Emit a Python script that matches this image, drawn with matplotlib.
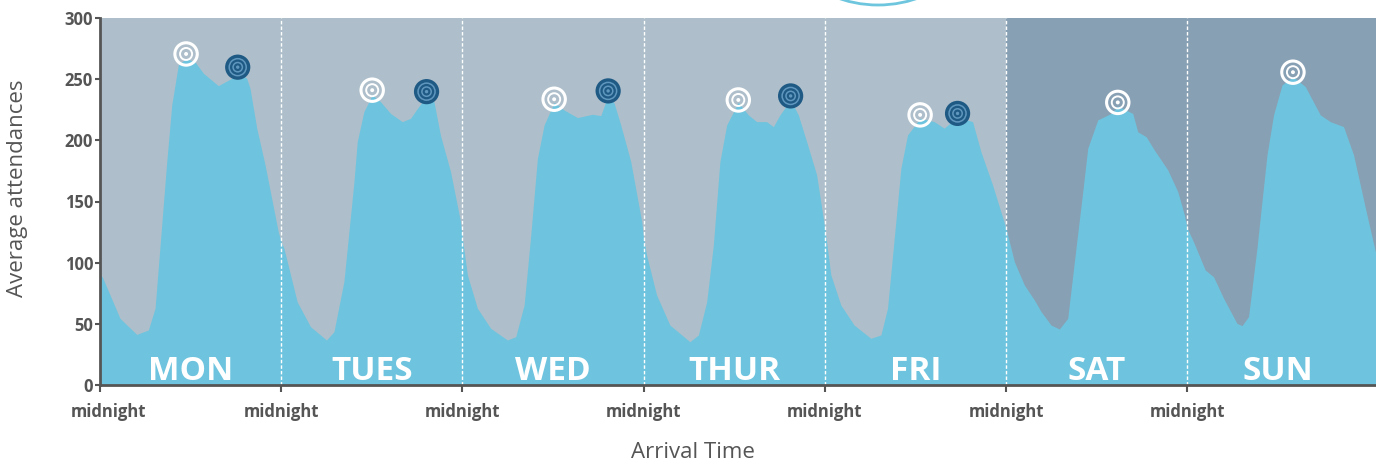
import matplotlib
matplotlib.use("Agg")
import matplotlib.pyplot as plt
import matplotlib.transforms as mtransforms
from matplotlib.patches import Circle
import numpy as np

plt.rcParams['font.family'] = ['Open Sans', 'DejaVu Sans']

# ---------------- data (hours since each day's midnight, attendances) ----------------
days = ["MON", "TUES", "WED", "THUR", "FRI", "SAT", "SUN"]

mon_h = [0, 0.3, 2.65, 4.86, 6.4, 7.29, 8.84, 9.5, 10.37, 11.4, 12.6, 13.7, 15.67, 17.45, 18.24, 19.43, 19.87, 20.76, 21.86, 23.62]
mon_v = [90, 88.5, 54.5, 41.4, 45, 62.7, 182.6, 229, 261.6, 267, 264, 254.8, 244.7, 250.7, 256, 250.7, 242.6, 210, 180, 125]

tue_h = [0, 0.36, 2.12, 3.88, 6.0, 6.98, 8.3, 9.63, 10.07, 10.95, 12.05, 13.15, 14.48, 16.03, 17.13, 18.02, 19.25, 20.23, 21.1, 22.43, 23.75]
tue_v = [117, 111.8, 68, 47.7, 36.8, 43.6, 84.5, 166, 199, 223.5, 237, 231.6, 222, 215.3, 218, 226, 236, 231.6, 204, 174.4, 133.5]

wed_h = [0, 0.66, 1.99, 3.75, 5.96, 7.06, 8.17, 9.05, 9.93, 10.82, 12.15, 13.47, 15.23, 17.22, 18.32, 19.3, 20.1, 20.97, 22.3, 23.75]
wed_v = [120, 90, 62.7, 46.3, 36.8, 39.5, 65.4, 122.6, 185.3, 212.6, 231, 224.8, 218.6, 221.3, 220.2, 237, 230.3, 212.6, 182.6, 133.5]

thu_h = [0, 0.4, 1.72, 3.48, 6.13, 7.25, 8.35, 9.23, 10.1, 11.0, 12.54, 13.87, 14.97, 16.29, 17.18, 18.05, 19.47, 20.49, 21.59, 22.92]
thu_v = [120, 106, 73.6, 49, 35.4, 40.9, 68, 114.4, 182.6, 212.6, 231, 220.8, 215.3, 215.3, 211.2, 220.8, 233, 220.8, 199, 171.7]

fri_h = [0, 0.8, 2.12, 3.88, 6.09, 7.42, 8.3, 9.4, 10.07, 10.95, 12.62, 14.48, 15.8, 17.58, 19.57, 20.67, 22.22]
fri_v = [128, 90, 65.4, 49, 38.2, 40.9, 62.7, 133.5, 177.2, 204.4, 218, 215.3, 210, 219, 215.3, 190.8, 163.5]

sat_h = [0, 1.1, 2.42, 3.75, 4.64, 5.96, 7.06, 8.17, 9.05, 10.16, 10.82, 12.15, 13.91, 14.8, 16.78, 17.44, 18.55, 19.65, 21.42, 22.75, 23.62]
sat_v = [128, 100.8, 81.8, 69.5, 60, 49, 45.8, 54.5, 100.8, 158, 193.5, 216.7, 222, 228, 222, 207, 203, 192, 175.8, 158, 139]

sun_h = [0, 0.83, 2.38, 3.48, 4.81, 6.58, 7.25, 8.12, 9.23, 10.56, 11.43, 12.55, 14.0, 15.63, 17.62, 18.94, 20.7, 22.03, 23.8, 25.03]
sun_v = [128, 117, 94, 88.5, 70.9, 50.4, 48.5, 55.9, 111.8, 188, 220.8, 245.3, 252, 244, 220.8, 215.3, 211.2, 188, 139, 106]

day_hours = [mon_h, tue_h, wed_h, thu_h, fri_h, sat_h, sun_h]
day_values = [mon_v, tue_v, wed_v, thu_v, fri_v, sat_v, sun_v]

# first-peak markers (white) and second-peak markers (dark), hours since Monday midnight
peak1_h = [11.4, 36.05, 60.15, 84.54, 108.62, 134.8, 158.0]
peak1_v = [270.6, 241, 233.6, 233, 220.8, 231, 255.7]
peak2_h = [18.24, 43.25, 67.3, 91.47, 113.58]
peak2_v = [259.8, 239.8, 240.4, 236.3, 222]

yticks = [0, 50, 100, 150, 200, 250, 300]
x_tick_label = "midnight"

# ---------------- styling ----------------
W, H, DPI = 1376, 462, 100
weekday_bg = "#AEBFCB"
weekend_bg = "#88A0B4"
fill_col = "#6EC4DE"
text_col = "#555555"
dark_mk = "#1F5A85"
dark_ring = "#5F97BE"

fig = plt.figure(figsize=(W / DPI, H / DPI), dpi=DPI)
ax = fig.add_axes([100 / W, 1 - 385 / H, 1 - 100 / W, (385 - 18) / H])

ax.set_xlim(0, 169)
ax.set_ylim(0, 300)

# backgrounds
ax.axvspan(0, 120, color=weekday_bg, zorder=0, lw=0)
ax.axvspan(120, 169, color=weekend_bg, zorder=0, lw=0)

# build full series
all_h = np.concatenate([np.array(h) + 24 * i for i, h in enumerate(day_hours)])
all_v = np.concatenate([np.array(v, dtype=float) for v in day_values])
ax.fill_between(all_h, 0, all_v, color=fill_col, lw=0, zorder=1)

# day separators
for i in range(1, 7):
    ax.axvline(24 * i, color="white", lw=1.0, ls=(0, (2.5, 1.5)), zorder=2)

# day labels
for i, d in enumerate(days):
    ax.text(24 * i + 12, 4, d, color="white", fontsize=24, fontweight="bold",
            ha="center", va="baseline", zorder=3)

# markers - white
ax.scatter(peak1_h, peak1_v, s=260, facecolors="none", edgecolors="white", linewidths=2.2, zorder=5)
ax.scatter(peak1_h, peak1_v, s=75, facecolors="none", edgecolors="white", linewidths=1.4, zorder=5)
ax.scatter(peak1_h, peak1_v, s=8, facecolors="white", edgecolors="none", zorder=5)
# markers - dark
ax.scatter(peak2_h, peak2_v, s=330, facecolors=dark_mk, edgecolors="none", zorder=5)
ax.scatter(peak2_h, peak2_v, s=150, facecolors="none", edgecolors=dark_ring, linewidths=1.1, zorder=6)
ax.scatter(peak2_h, peak2_v, s=45, facecolors="none", edgecolors=dark_ring, linewidths=1.1, zorder=6)
ax.scatter(peak2_h, peak2_v, s=6, facecolors=dark_ring, edgecolors="none", zorder=6)

# axes styling
for s in ["top", "right"]:
    ax.spines[s].set_visible(False)
for s in ["left", "bottom"]:
    ax.spines[s].set_color(text_col)
    ax.spines[s].set_linewidth(2)
    ax.spines[s].set_zorder(7)

ax.set_yticks(yticks)
ax.set_yticklabels([str(t) for t in yticks])
ax.tick_params(axis="y", direction="out", length=3.5, width=1.5, color=text_col, pad=1.5,
               labelsize=12, labelcolor=text_col)
for lab in ax.get_yticklabels():
    lab.set_fontweight("bold")

xt = [24 * i for i in range(7)]
ax.set_xticks(xt)
ax.set_xticklabels([x_tick_label] * len(xt))
ax.tick_params(axis="x", direction="out", length=5, width=1.5, color=text_col, pad=8,
               labelsize=12, labelcolor=text_col)
for j, lab in enumerate(ax.get_xticklabels()):
    lab.set_fontweight("bold")
    if j == 0:
        lab.set_transform(lab.get_transform() + mtransforms.ScaledTranslation(8 / DPI, 0, fig.dpi_scale_trans))

fig.text(18 / W, 1 - 188 / H, "Average attendances", rotation=90, ha="center", va="center",
         fontsize=16, color=text_col)
fig.text(693 / W, 1 - 452 / H, "Arrival Time", ha="center", va="center",
         fontsize=16, color=text_col)

# decorative partial circle at top
R = 120
fig.add_artist(Circle((878, H - 5 + R), R, transform=None, fill=False,
                      edgecolor="#6EC6DE", lw=2))

fig.savefig("out.png", dpi=DPI)
